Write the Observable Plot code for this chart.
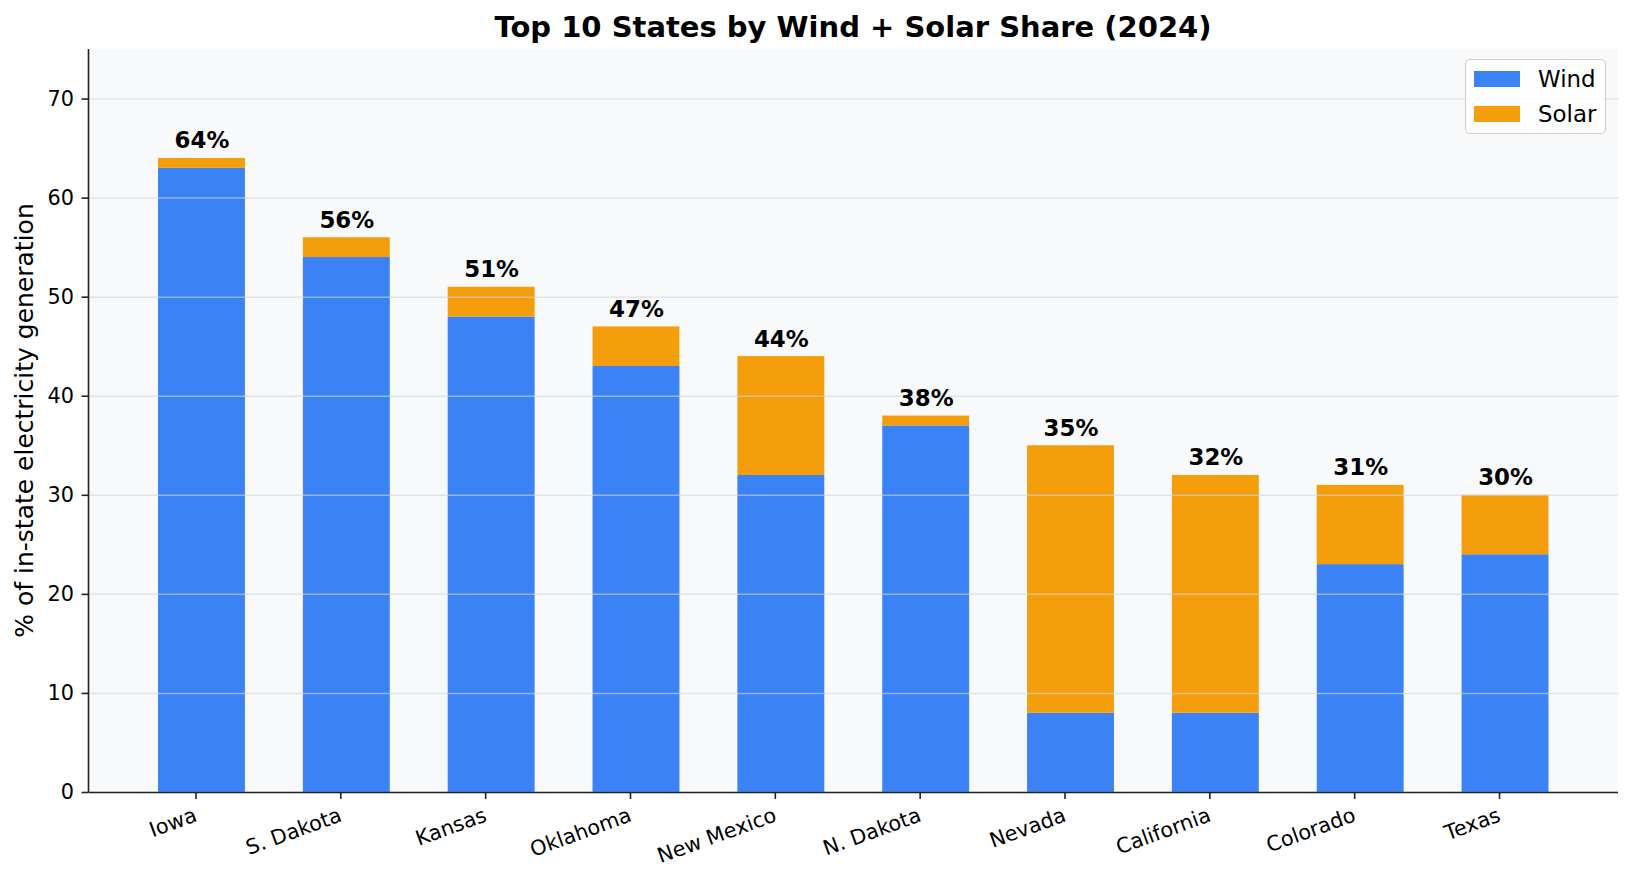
<!DOCTYPE html>
<html>
<head>
<meta charset="utf-8">
<script src="https://cdn.jsdelivr.net/npm/d3@7"></script>
<script src="https://cdn.jsdelivr.net/npm/@observablehq/plot@0.6"></script>
<style>
  html, body { margin: 0; padding: 0; background: #ffffff; }
  body { width: 1632px; height: 883px; position: relative; overflow: hidden; font-family: "DejaVu Sans", sans-serif; }
  #title { position: absolute; left: 88px; width: 1530px; top: 10px; text-align: center; font-size: 29px; line-height: 34px; font-weight: bold; color: #000; }
  #chart { position: absolute; left: 0; top: 0; }
  #legend { position: absolute; left: 1465px; top: 59px; width: 141px; height: 75px; border: 1.5px solid #cccccc; border-radius: 5px; background: rgba(255,255,255,0.8); box-sizing: border-box; }
  .item { position: absolute; left: 8px; height: 24px; display: flex; align-items: center; font-size: 22.9px; color: #000; white-space: nowrap; }
  .sw { width: 46px; height: 16px; margin-right: 18px; flex: none; }
</style>
</head>
<body>
<div id="chart"></div>
<div id="title">Top 10 States by Wind + Solar Share (2024)</div>
<div id="legend"></div>
<script>
const states = ["Iowa", "S. Dakota", "Kansas", "Oklahoma", "New Mexico", "N. Dakota", "Nevada", "California", "Colorado", "Texas"];
const wind = [63, 54, 48, 43, 32, 37, 8, 8, 23, 24];
const solar = [1, 2, 3, 4, 12, 1, 27, 24, 8, 6];
const seriesNames = ["Wind", "Solar"];
const seriesColors = ["#3b82f6", "#f59e0b"];
const yTicks = [0, 10, 20, 30, 40, 50, 60, 70];

const rows = [];
states.forEach((s, i) => {
  rows.push({state: s, series: "Wind", value: wind[i]});
  rows.push({state: s, series: "Solar", value: solar[i]});
});
const totals = states.map((s, i) => ({state: s, total: wind[i] + solar[i]}));

const ML = 88.5, MT = 49, MR = 14, MB = 91, W = 1632, H = 883;

const chart = Plot.plot({
  width: W,
  height: H,
  marginTop: MT,
  marginLeft: ML,
  marginRight: MR,
  marginBottom: MB,
  style: {fontFamily: "DejaVu Sans, sans-serif", fontSize: "20.8px", color: "#000", background: "transparent"},
  x: {domain: states, paddingInner: 0.4, paddingOuter: 0.48, round: false, label: null},
  y: {domain: [0, 75], label: null},
  color: {domain: seriesNames, range: seriesColors},
  marks: [
    Plot.frame({fill: "#f8f9fb", stroke: null}),
    Plot.barY(rows, {x: "state", y: "value", fill: "series", z: "series", order: seriesNames}),
    Plot.gridY(yTicks, {stroke: "#d1d5db", strokeOpacity: 0.6, strokeWidth: 1.5}),
    Plot.text(totals, {x: "state", y: "total", text: d => d.total + "%", lineAnchor: "bottom", dy: -10, fontWeight: "bold", fontSize: 22.9, fill: "#000"}),
    Plot.axisY(yTicks, {tickSize: 7, tickPadding: 8, fontSize: 20.8, stroke: "#222", strokeWidth: 1.6, label: null}),
    Plot.axisX({tickSize: 7, tickPadding: 15, dx: -6, tickRotate: -20, fontSize: 20.8, stroke: "#222", strokeWidth: 1.6, label: null}),
    Plot.ruleY([0], {stroke: "#222", strokeWidth: 1.6})
  ]
});
document.getElementById("chart").appendChild(chart);

// left spine and y-axis title
const svg = d3.select(chart);
svg.append("line")
  .attr("x1", ML).attr("x2", ML).attr("y1", MT).attr("y2", H - MB)
  .attr("stroke", "#222").attr("stroke-width", 1.6);
svg.append("text")
  .attr("transform", `translate(33,${(MT + H - MB) / 2}) rotate(-90)`)
  .attr("text-anchor", "middle")
  .attr("font-size", 25)
  .attr("fill", "#000")
  .text("% of in-state electricity generation");

const legend = document.getElementById("legend");
seriesNames.forEach((n, i) => {
  const it = document.createElement("div");
  it.className = "item";
  it.style.top = (7 + i * 35) + "px";
  it.innerHTML = `<span class="sw" style="background:${seriesColors[i]}"></span><span>${n}</span>`;
  legend.appendChild(it);
});
</script>
</body>
</html>
